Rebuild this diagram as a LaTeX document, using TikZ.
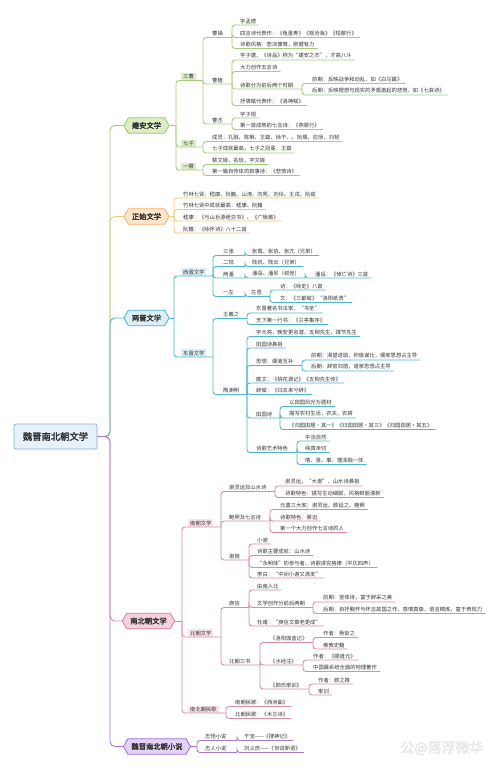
\documentclass[tikz,border=0pt]{standalone}
\usepackage{fontspec}
\setmainfont{Noto Sans CJK SC}
\newfontfamily\bfcjk[FakeBold=2.5]{Noto Sans CJK SC}
\usetikzlibrary{shapes.symbols,calc}
\definecolor{txt}{HTML}{333333}
\definecolor{cg}{HTML}{A3CD78}\definecolor{fg}{HTML}{DCEDC6}\definecolor{bg}{HTML}{9BC96B}
\definecolor{co}{HTML}{F1C77C}\definecolor{fo}{HTML}{FDE6CB}\definecolor{bo}{HTML}{F2B268}
\definecolor{ct}{HTML}{4DB6CB}\definecolor{ft}{HTML}{DCEFF7}\definecolor{bt}{HTML}{4AAECF}
\definecolor{cp}{HTML}{D68DA6}\definecolor{fp}{HTML}{F6D0DC}\definecolor{bp}{HTML}{D07D9A}
\definecolor{cv}{HTML}{A47BD2}\definecolor{fv}{HTML}{E4D2F6}\definecolor{bv}{HTML}{9C6FD4}
\definecolor{fr}{HTML}{E7F1FA}\definecolor{br}{HTML}{7EAEDF}
\definecolor{wm}{HTML}{E8E8E8}
\tikzset{
 lf/.style={anchor=south west, inner xsep=0pt, inner ysep=1.3pt, text=txt, font=\fontsize{5.3}{6}\selectfont},
 bx/.style={lf, inner xsep=2pt, inner ysep=1.2pt},
 con/.style={line width=0.9pt, rounded corners=3pt},
 lg/.style={con, draw=cg}, lo/.style={con, draw=co}, lt/.style={con, draw=ct},
 lp/.style={con, draw=cp}, lv/.style={con, draw=cv},
 hex/.style={signal, signal to=west and east, signal pointer angle=120, draw, line width=0.8pt,
   inner xsep=3.5pt, inner ysep=2pt, minimum height=15.5pt, text=txt, font=\bfcjk\fontsize{7.3}{8}\selectfont},
 spine/.style={line width=0.9pt, rounded corners=5pt},
}
\newcommand\Lf[6]{\node[lf] (#1) at (#4,#5) {#6};\draw[#2] (#3) |- ($(#1.south east)+(3,0)$);}
\newcommand\In[7]{\node[lf] (#1) at (#4,#5) {#7};\draw[#2] (#3) |- (#6,#5);}
\newcommand\Bx[8]{\node[bx,fill=#3] (#1) at (#5,#6) {#8};\draw[#2] (#4) |- (#7,#6);}
\begin{document}
\begin{tikzpicture}[x=1pt,y=-1pt]
\fill[white] (0,0) rectangle (500,772);
\useasboundingbox (0,0) rectangle (500,772);

% watermark
\node[text=wm, font=\bfcjk\fontsize{14}{14}\selectfont] (wmk) at (442,748) {公@落浮微华};

% root and main nodes
\node[draw=br, fill=fr, line width=0.7pt, rounded corners=2pt, minimum width=83pt, minimum height=25pt,
  text=txt, font=\bfcjk\fontsize{9.3}{10}\selectfont] (root) at (55.5,436.5) {魏晋南北朝文学};
\node[hex, fill=fg, draw=bg] (ja) at (146.5,125.5) {建安文学};
\node[hex, fill=fo, draw=bo] (zs) at (146.5,216.5) {正始文学};
\node[hex, fill=ft, draw=bt] (lj) at (146.5,318) {两晋文学};
\node[hex, fill=fp, draw=bp] (nb) at (148.5,621) {南北朝文学};
\node[hex, fill=fv, draw=bv] (xs) at (157,746.5) {魏晋南北朝小说};

\draw[spine, draw=cg] (root.east) -- (110,436.5) |- (ja.west);
\draw[spine, draw=co] (root.east) -- (110,436.5) |- (zs.west);
\draw[spine, draw=ct] (root.east) -- (110,436.5) |- (lj.west);
\draw[spine, draw=cp] (root.east) -- (110,436.5) |- (nb.west);
\draw[spine, draw=cv] (root.east) -- (110,436.5) |- (xs.west);

% ===== 建安文学 =====
\draw[lg] (ja.east) -- (176,125.5);
\Bx{sc}{lg}{fg}{176,125.5}{181}{80.5}{203}{三曹}
\In{cc}{lg}{203,80.5}{212}{37.5}{232}{曹操}
\Lf{cc1}{lg}{232,37.5}{240}{25}{字孟德}
\Lf{cc2}{lg}{232,37.5}{240}{37.5}{四言诗代表作：《龟虽寿》《观沧海》《短歌行》}
\Lf{cc3}{lg}{232,37.5}{240}{48.5}{诗歌风格：悲凉慷慨，刚健有力}
\In{cz}{lg}{203,80.5}{212}{84}{232}{曹植}
\Lf{cz1}{lg}{232,84}{240}{60}{字子建，《诗品》称为“建安之杰”，才高八斗}
\Lf{cz2}{lg}{232,84}{240}{71.5}{大力创作五言诗}
\In{cz3}{lg}{232,84}{240}{89}{302}{诗歌分为前后两个时期}
\Lf{cz31}{lg}{302,89}{312}{83.5}{前期：反映战争和动乱，如《白马篇》}
\Lf{cz32}{lg}{302,89}{312}{95}{后期：反映理想与现实的矛盾激起的悲愤，如《七哀诗》}
\Lf{cz4}{lg}{232,84}{240}{105.5}{抒情赋代表作：《洛神赋》}
\In{cp}{lg}{203,80.5}{212}{124}{232}{曹丕}
\Lf{cp1}{lg}{232,124}{240}{118}{字子桓}
\Lf{cp2}{lg}{232,124}{240}{129.5}{第一首成熟的七言诗：《燕歌行》}
\Bx{qz}{lg}{fg}{176,125.5}{181}{147}{203}{七子}
\Lf{qz1}{lg}{203,147}{212}{141.5}{成员：孔融、陈琳、王粲、徐干、、阮瑀、应玚、刘桢}
\Lf{qz2}{lg}{203,147}{212}{153}{七子成就最高，七子之冠冕：王粲}
\Bx{yc}{lg}{fg}{176,125.5}{181}{170}{203}{一蔡}
\Lf{yc1}{lg}{203,170}{212}{164.5}{蔡文姬，名琰，字文姬}
\Lf{yc2}{lg}{203,170}{212}{175.5}{第一篇自传体的叙事诗：《悲愤诗》}

% ===== 正始文学 =====
\draw[lo] (zs.east) -- (174,216.5);
\Lf{zs1}{lo}{174,216.5}{183}{198}{竹林七贤：嵇康、阮籍、山涛、向秀、刘伶、王戎、阮咸}
\Lf{zs2}{lo}{174,216.5}{183}{209.5}{竹林七贤中成就最高：嵇康、阮籍}
\Lf{zs3}{lo}{174,216.5}{183}{221}{嵇康：《与山巨源绝交书》、《广陵散》}
\Lf{zs4}{lo}{174,216.5}{183}{233}{阮籍：《咏怀诗》八十二首}

% ===== 两晋文学 =====
\draw[lt] (lj.east) -- (174,318);
\Bx{xj}{lt}{ft}{174,318}{181}{276}{213}{西晋文学}
\In{xj1}{lt}{213,276}{223}{255.5}{245}{三张}
\Lf{xj11}{lt}{245,255.5}{252}{255.5}{张载、张协、张亢（兄弟）}
\In{xj2}{lt}{213,276}{223}{266.5}{245}{二陆}
\Lf{xj21}{lt}{245,266.5}{252}{266.5}{陆机、陆云（兄弟）}
\In{xj3}{lt}{213,276}{223}{278}{245}{两潘}
\In{xj31}{lt}{245,278}{252}{278}{305}{潘岳、潘尼（叔侄）}
\Lf{xj311}{lt}{305,278}{315}{278}{潘岳：《悼亡诗》三首}
\In{xj4}{lt}{213,276}{223}{296.5}{245}{一左}
\In{xj41}{lt}{245,296.5}{251}{296.5}{270}{左思}
\Lf{xj411}{lt}{270,296.5}{280}{290}{诗：《咏史》八首}
\Lf{xj412}{lt}{270,296.5}{280}{302.5}{文：《三都赋》“洛阳纸贵”}
\Bx{dj}{lt}{ft}{174,318}{181}{357}{213}{东晋文学}
\In{wx}{lt}{213,357}{223}{318.5}{247}{王羲之}
\Lf{wx1}{lt}{247,318.5}{256}{313}{东晋著名书法家，“书圣”}
\Lf{wx2}{lt}{247,318.5}{256}{324.5}{天下第一行书：《兰亭集序》}
\In{ty}{lt}{213,357}{223}{394.5}{247}{陶渊明}
\Lf{ty1}{lt}{247,394.5}{256}{336.5}{字元亮，晚安更名潜，五柳先生，靖节先生}
\Lf{ty2}{lt}{247,394.5}{256}{348}{田园诗鼻祖}
\In{ty3}{lt}{247,394.5}{256}{365.5}{302}{思想：儒道互补}
\Lf{ty31}{lt}{302,365.5}{311}{360}{前期：渴望进取，积极谋仕，儒家思想占主导}
\Lf{ty32}{lt}{302,365.5}{311}{371}{后期：辞官归隐，道家思想占主导}
\Lf{ty4}{lt}{247,394.5}{256}{383}{散文：《桃花源记》《五柳先生传》}
\Lf{ty5}{lt}{247,394.5}{256}{394.5}{辞赋：《归去来兮辞》}
\In{ty6}{lt}{247,394.5}{256}{418}{280}{田园诗}
\Lf{ty61}{lt}{280,418}{289}{406.5}{以田园风光为题材}
\Lf{ty62}{lt}{280,418}{289}{418}{描写农村生活，农夫，农耕}
\Lf{ty63}{lt}{280,418}{289}{429.5}{《归园田居·其一》《归园田居·其三》《归园田居·其五》}
\In{ty7}{lt}{247,394.5}{256}{452.5}{297}{诗歌艺术特色}
\Lf{ty71}{lt}{297,452.5}{305}{441}{平淡自然}
\Lf{ty72}{lt}{297,452.5}{305}{452.5}{纯真亲切}
\Lf{ty73}{lt}{297,452.5}{305}{464.5}{情、景、事、理浑融一体}

% ===== 南北朝文学 =====
\draw[lp] (nb.east) -- (182,621);
\Bx{nc}{lp}{fp!60}{182,621}{188}{527}{221}{南朝文学}
\In{xl}{lp}{221,527}{229}{491.5}{275}{谢灵运及山水诗}
\Lf{xl1}{lp}{275,491.5}{285}{486}{谢灵运，“大谢”，山水诗鼻祖}
\Lf{xl2}{lp}{275,491.5}{285}{497.5}{诗歌特色：描写生动细腻，风格鲜丽清新}
\In{bz}{lp}{221,527}{229}{521}{270}{鲍照及七言诗}
\Lf{bz1}{lp}{270,521}{280}{509.5}{元嘉三大家：谢灵运、颜延之、鲍照}
\Lf{bz2}{lp}{270,521}{280}{521}{诗歌特色：豪迈}
\Lf{bz3}{lp}{270,521}{280}{532.5}{第一个大力创作七言诗的人}
\In{xt}{lp}{221,527}{229}{560}{249}{谢朓}
\Lf{xt1}{lp}{249,560}{257}{544}{小谢}
\Lf{xt2}{lp}{249,560}{257}{555.5}{诗歌主要成就：山水诗}
\Lf{xt3}{lp}{249,560}{257}{567.5}{“永明体”的参与者，诗歌讲究格律（平仄四声）}
\Lf{xt4}{lp}{249,560}{257}{578}{李白：“中间小谢又清发”}
\Bx{bc}{lp}{fp!60}{182,621}{188}{637}{221}{北朝文学}
\In{yx}{lp}{221,637}{229}{607.5}{249}{庾信}
\Lf{yx1}{lp}{249,607.5}{257}{590}{由南入北}
\In{yx2}{lp}{249,607.5}{257}{607.5}{313}{文学创作分前后两期}
\Lf{yx21}{lp}{313,607.5}{323}{602}{前期：宫体诗，富于辞采之美}
\Lf{yx22}{lp}{313,607.5}{323}{613.5}{后期：自抒胸怀与怀念故国之作，感情真挚，语言精炼，富于表现力}
\Lf{yx3}{lp}{249,607.5}{257}{626}{杜甫：“庾信文章老更成”}
\In{ss}{lp}{221,637}{229}{665}{260}{北朝三书}
\In{ss1}{lp}{260,665}{270}{642.5}{313}{《洛阳伽蓝记》}
\Lf{ss11}{lp}{313,642.5}{323}{637.5}{作者：杨衒之}
\Lf{ss12}{lp}{313,642.5}{323}{649}{佛教史籍}
\In{ss2}{lp}{260,665}{270}{665}{303}{《水经注》}
\Lf{ss21}{lp}{303,665}{313}{660}{作者：《郦道元》}
\Lf{ss22}{lp}{303,665}{313}{671.5}{中国最系统全面的地理著作}
\In{ss3}{lp}{260,665}{270}{689}{309}{《颜氏家训》}
\Lf{ss31}{lp}{309,689}{318}{684}{作者：颜之推}
\Lf{ss32}{lp}{309,689}{318}{695}{家训}
\Bx{mg}{lp}{fp!60}{182,621}{188}{713}{226}{南北朝民歌}
\Lf{mg1}{lp}{226,713}{235}{706.5}{南朝民歌：《西洲曲》}
\Lf{mg2}{lp}{226,713}{235}{718.5}{北朝民歌：《木兰诗》}

% ===== 魏晋南北朝小说 =====
\draw[lv] (xs.east) -- (197,746.5);
\In{zg}{lv}{197,746.5}{205}{740.5}{237}{志怪小说}
\Lf{zg1}{lv}{237,740.5}{244}{740.5}{干宝——《搜神记》}
\In{zr}{lv}{197,746.5}{205}{752.5}{237}{志人小说}
\Lf{zr1}{lv}{237,752.5}{244}{752.5}{刘义庆——《世说新语》}
\end{tikzpicture}
\end{document}
